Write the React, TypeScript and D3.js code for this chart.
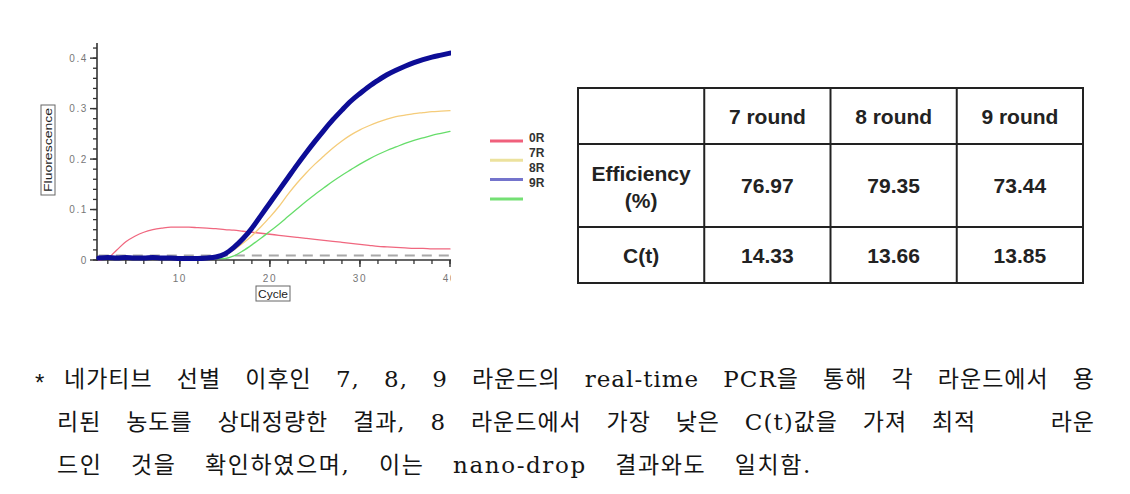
import React, { useEffect, useRef } from "react";
import * as d3 from "d3";

// ---------------- data ----------------
const cycles = [1,2,3,4,5,6,7,8,9,10,11,12,13,14,15,16,17,18,19,20,21,22,23,24,25,26,27,28,29,30,31,32,33,34,35,36,37,38,39,40];

const series0R = [0.0,0.004,0.02,0.036,0.047,0.055,0.06,0.063,0.065,0.065,0.065,0.064,0.063,0.062,0.06,0.059,0.057,0.055,0.053,0.051,0.049,0.047,0.045,0.043,0.041,0.039,0.037,0.035,0.033,0.031,0.029,0.027,0.026,0.025,0.024,0.023,0.023,0.022,0.022,0.022];
const series7R = [0.003,0.003,0.003,0.003,0.003,0.003,0.003,0.003,0.003,0.003,0.003,0.003,0.003,0.003,0.01,0.02,0.033,0.048,0.066,0.085,0.106,0.13,0.152,0.172,0.19,0.206,0.222,0.236,0.248,0.258,0.266,0.273,0.279,0.284,0.287,0.29,0.292,0.294,0.295,0.296];
const series8R = [0.004,0.005,0.004,0.005,0.004,0.004,0.005,0.004,0.004,0.003,0.003,0.003,0.004,0.006,0.012,0.025,0.042,0.063,0.088,0.113,0.138,0.163,0.188,0.212,0.235,0.257,0.278,0.297,0.315,0.33,0.344,0.356,0.367,0.376,0.384,0.391,0.397,0.402,0.406,0.41];
const series9R = [0.003,0.003,0.003,0.003,0.003,0.003,0.003,0.003,0.003,0.003,0.003,0.003,0.003,0.003,0.003,0.008,0.018,0.03,0.043,0.057,0.071,0.086,0.101,0.116,0.13,0.143,0.156,0.168,0.179,0.19,0.2,0.209,0.217,0.224,0.231,0.237,0.242,0.247,0.251,0.255];
const threshold = 0.009;

const legendLabels = ["0R", "7R", "8R", "9R"];
const yTickValues = [0, 0.1, 0.2, 0.3, 0.4];
const yTickLabels = ["0", "0.1", "0.2", "0.3", "0.4"];
const xTickValues = [10, 20, 30, 40];
const xTickLabels = ["10", "20", "30", "40"];

const tableHeaders = ["7 round", "8 round", "9 round"];
const efficiency = ["76.97", "79.35", "73.44"];
const ctValues = ["14.33", "13.66", "13.85"];

const paragraph = [
  "네가티브 선별 이후인 7, 8, 9 라운드의 real-time PCR을 통해 각 라운드에서 용",
  "리된 농도를 상대정량한 결과, 8 라운드에서 가장 낮은 C(t)값을 가져 최적   라운",
  "드인 것을 확인하였으며, 이는 nano-drop 결과와도 일치함.",
];

// ---------------- layout ----------------
const seriesList = [
  { name: "0R", values: series0R, color: "#f0677f", width: 1.3 },
  { name: "7R", values: series7R, color: "#f5cc7a", width: 1.3 },
  { name: "9R", values: series9R, color: "#66dd6a", width: 1.3 },
  { name: "8R", values: series8R, color: "#0d0d96", width: 5 },
];
const legendColors = ["#f0607c", "#ece29e", "#7474cc", "#74e074"];

const xScale = d3.scaleLinear().domain([0.8, 40]).range([97, 450]);
const yScale = d3.scaleLinear().domain([0, 0.43]).range([260, 43]);

const tableX = d3.scaleLinear().domain([0, 4]).range([578, 1083]);
const tableRows = [88, 144, 227, 283];

const paraFont = "'DejaVu Serif', 'Noto Sans CJK KR', serif";
const lineSpecs = [
  { x0: 64, x1: 1095, y: 387, ls: 1 },
  { x0: 57, x1: 1095, y: 430, ls: 1 },
  { x0: 57, x1: 812, y: 473, ls: 1.6 },
];

export default function App() {
  const paraRef = useRef<SVGGElement | null>(null);

  useEffect(() => {
    const layout = () => {
      const g = d3.select(paraRef.current);
      g.selectAll("*").remove();
      paragraph.forEach((line, i) => {
        const spec = lineSpecs[i];
        const tokens = line.split(" ");
        const words: { t: string; gap: number }[] = [];
        let empties = 0;
        tokens.forEach((t) => {
          if (t === "") { empties++; return; }
          words.push({ t, gap: words.length === 0 ? 0 : empties + 1 });
          empties = 0;
        });
        const nodes = words.map((w) =>
          g.append("text")
            .attr("y", spec.y)
            .attr("font-family", paraFont)
            .attr("font-size", 23)
            .attr("letter-spacing", spec.ls)
            .attr("fill", "#151515")
            .text(w.t)
        );
        const widths = nodes.map((n) => (n.node() as SVGTextElement).getComputedTextLength());
        const total = d3.sum(widths);
        const weights = d3.sum(words, (w) => w.gap);
        const unit = (spec.x1 - spec.x0 - total) / weights;
        let x = spec.x0;
        nodes.forEach((n, k) => {
          x += words[k].gap * unit;
          n.attr("x", x);
          x += widths[k];
        });
      });
    };
    layout();
    if ((document as any).fonts && (document as any).fonts.ready) {
      (document as any).fonts.ready.then(layout);
    }
  }, []);

  const line = d3
    .line<number>()
    .x((_, i) => xScale(cycles[i]))
    .y((d) => yScale(d))
    .curve(d3.curveMonotoneX);

  const yMinor = yScale.ticks(20);
  const xMinor = xScale.ticks(20).filter((v) => v >= 2);

  const axisColor = "#333";
  const tickFont = "'Liberation Sans', Arial, sans-serif";

  return (
    <svg
      width={1130}
      height={494}
      style={{ position: "absolute", left: 0, top: 0, background: "#fff" }}
    >
      <defs>
        <clipPath id="plotClip">
          <rect x={0} y={0} width={451} height={320} />
        </clipPath>
      </defs>

      <g clipPath="url(#plotClip)">
        {/* threshold */}
        <line
          x1={xScale(1)}
          x2={xScale(40)}
          y1={yScale(threshold)}
          y2={yScale(threshold)}
          stroke="#a8a8a8"
          strokeWidth={2}
          strokeDasharray="10,7"
        />
        {/* axes */}
        <line x1={97} x2={97} y1={yScale(0.43)} y2={yScale(0) + 1} stroke={axisColor} strokeWidth={1.6} />
        <line x1={97} x2={451} y1={yScale(0)} y2={yScale(0)} stroke={axisColor} strokeWidth={1.6} />
        {yMinor.map((v) => (
          <line key={"ym" + v} x1={93} x2={97} y1={yScale(v)} y2={yScale(v)} stroke={axisColor} strokeWidth={1.3} />
        ))}
        {yTickValues.map((v, i) => (
          <g key={"yt" + v}>
            <line x1={90} x2={97} y1={yScale(v)} y2={yScale(v)} stroke={axisColor} strokeWidth={1.4} />
            <text
              x={88}
              y={yScale(v) + 3.5}
              textAnchor="end"
              fontFamily={tickFont}
              fontSize={10}
              letterSpacing={1.6}
              fill="#777"
            >
              {yTickLabels[i]}
            </text>
          </g>
        ))}
        {xMinor.map((v) => (
          <line key={"xm" + v} x1={xScale(v)} x2={xScale(v)} y1={yScale(0)} y2={yScale(0) + 4} stroke={axisColor} strokeWidth={1.3} />
        ))}
        {xTickValues.map((v, i) => (
          <g key={"xt" + v}>
            <line x1={xScale(v)} x2={xScale(v)} y1={yScale(0)} y2={yScale(0) + 7} stroke={axisColor} strokeWidth={1.4} />
            <text
              x={xScale(v)}
              y={yScale(0) + 22}
              textAnchor="middle"
              fontFamily={tickFont}
              fontSize={10}
              letterSpacing={1.6}
              fill="#777"
            >
              {xTickLabels[i]}
            </text>
          </g>
        ))}

        {/* curves */}
        {seriesList.map((s) => (
          <path
            key={s.name}
            d={line(s.values) || ""}
            fill="none"
            stroke={s.color}
            strokeWidth={s.width}
            strokeLinejoin="round"
            strokeLinecap="round"
          />
        ))}
      </g>

      {/* axis titles */}
      <rect x={41} y={105} width={14} height={90} fill="#fff" stroke="#666" strokeWidth={1} />
      <text
        transform="translate(52,150) rotate(-90)"
        textAnchor="middle"
        fontFamily={tickFont}
        fontSize={11}
        textLength={84}
        lengthAdjust="spacingAndGlyphs"
        fill="#222"
      >
        Fluorescence
      </text>
      <rect x={256} y={286} width={34} height={15} fill="#fff" stroke="#666" strokeWidth={1} />
      <text
        x={273}
        y={298}
        textAnchor="middle"
        fontFamily={tickFont}
        fontSize={11}
        textLength={30}
        lengthAdjust="spacingAndGlyphs"
        fill="#222"
      >
        Cycle
      </text>

      {/* legend */}
      {legendLabels.map((lab, i) => (
        <g key={"lg" + lab}>
          <line x1={490} x2={523} y1={141 + i * 19.3} y2={141 + i * 19.3} stroke={legendColors[i]} strokeWidth={3} />
          <text x={529} y={142 + i * 15} fontFamily={tickFont} fontSize={12} fontWeight="bold" fill="#333">
            {lab}
          </text>
        </g>
      ))}

      {/* table */}
      <g fontFamily={tickFont} fontWeight="bold" fontSize={21} fill="#222" textAnchor="middle">
        <rect
          x={tableX(0)}
          y={tableRows[0]}
          width={tableX(4) - tableX(0)}
          height={tableRows[3] - tableRows[0]}
          fill="none"
          stroke="#222"
          strokeWidth={2}
        />
        {[1, 2, 3].map((c) => (
          <line key={"tc" + c} x1={tableX(c)} x2={tableX(c)} y1={tableRows[0]} y2={tableRows[3]} stroke="#222" strokeWidth={2} />
        ))}
        {[1, 2].map((r) => (
          <line key={"tr" + r} x1={tableX(0)} x2={tableX(4)} y1={tableRows[r]} y2={tableRows[r]} stroke="#222" strokeWidth={2} />
        ))}
        {tableHeaders.map((h, i) => (
          <text key={"th" + h} x={(tableX(i + 1) + tableX(i + 2)) / 2} y={124}>
            {h}
          </text>
        ))}
        <text x={(tableX(0) + tableX(1)) / 2} y={181}>Efficiency</text>
        <text x={(tableX(0) + tableX(1)) / 2} y={208}>(%)</text>
        {efficiency.map((v, i) => (
          <text key={"ef" + i} x={(tableX(i + 1) + tableX(i + 2)) / 2} y={193}>
            {v}
          </text>
        ))}
        <text x={(tableX(0) + tableX(1)) / 2} y={263}>C(t)</text>
        {ctValues.map((v, i) => (
          <text key={"ct" + i} x={(tableX(i + 1) + tableX(i + 2)) / 2} y={263}>
            {v}
          </text>
        ))}
      </g>

      {/* paragraph */}
      <text x={35} y={391} fontFamily="'Liberation Sans', sans-serif" fontSize={24} fill="#151515">
        *
      </text>
      <g ref={paraRef} style={{ whiteSpace: "pre" }} />
    </svg>
  );
}
